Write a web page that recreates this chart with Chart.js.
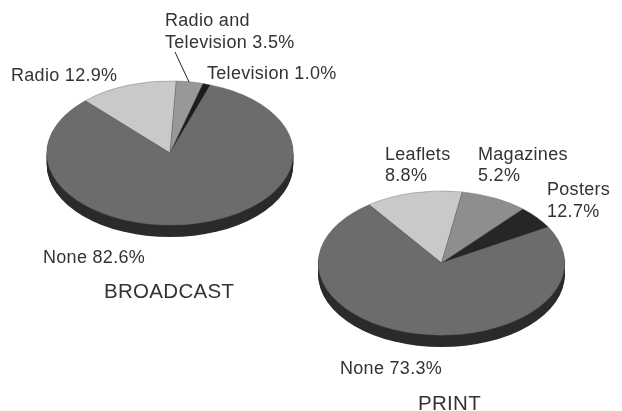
<!DOCTYPE html>
<html>
<head>
<meta charset="utf-8">
<script src="https://cdn.jsdelivr.net/npm/chart.js@4"></script>
<style>
    html, body { margin: 0; padding: 0; background: #fff; }
    #wrap { position: relative; width: 622px; height: 411px; overflow: hidden; }
    canvas { position: absolute; left: 0; top: 0; }
</style>
</head>
<body>
<div id="wrap">
    <canvas id="broadcast" width="622" height="411"></canvas>
    <canvas id="print" width="622" height="411"></canvas>
</div>
<script>
// slice values as drawn in the picture
const broadcastCategories = ['Radio', 'Radio and Television', 'Television', 'None']
const broadcastValues = [12.9, 3.5, 1.0, 82.6]
const broadcastLabels = ['Radio 12.9%', 'Radio and', 'Television 3.5%', 'Television 1.0%', 'None 82.6%']

// the printed percentages do not follow the slice sizes, slices are read off the picture
const printCategories = ['Leaflets', 'Magazines', 'Posters', 'None']
const printValues = [12.7, 8.8, 5.2, 73.3]
const printLabels = ['Leaflets', '8.8%', 'Magazines', '5.2%', 'Posters', '12.7%', 'None 73.3%']

const broadcastColors = ['#c9c9c9', '#989898', '#1c1c1c', '#6c6c6c']
const printColors = ['#c9c9c9', '#8e8e8e', '#262626', '#6c6c6c']

const font = '"Liberation Sans", Arial, sans-serif'
const tilt = 0.585
const depth = 12

/*Squash the round pie into an ellipse and put the dark rim under it*/
const tiltPlugin = {
    id: 'tilt',
    beforeDatasetsDraw(chart) {
        const arc = chart.getDatasetMeta(0).data[0]
        const ctx = chart.ctx
        const r = arc.outerRadius
        ctx.fillStyle = '#2b2b2b'
        for (let d = depth; d > 0; d--) {
            ctx.beginPath()
            ctx.ellipse(arc.x, arc.y + d, r, r * tilt, 0, 0, Math.PI * 2)
            ctx.fill()
        }
        ctx.save()
        ctx.translate(arc.x, arc.y)
        ctx.scale(1, tilt)
        ctx.translate(-arc.x, -arc.y)
    },
    afterDatasetsDraw(chart) {
        chart.ctx.restore()
    }
}

/*Labels and titles*/
const textPlugin = {
    id: 'texts',
    afterDraw(chart, args, opts) {
        const ctx = chart.ctx
        ctx.save()
        ctx.fillStyle = '#333'
        ctx.textBaseline = 'alphabetic'
        ctx.letterSpacing = '0.3px'
        ctx.font = '18px ' + font
        opts.labels.forEach(function(label, i){
            ctx.fillText(label, opts.places[i][0], opts.places[i][1])
        })
        ctx.font = '20.5px ' + font
        ctx.fillText(opts.title, opts.titlePlace[0], opts.titlePlace[1])
        if (opts.leader) {
            ctx.strokeStyle = '#222'
            ctx.lineWidth = 1
            ctx.beginPath()
            ctx.moveTo(opts.leader[0], opts.leader[1])
            ctx.lineTo(opts.leader[2], opts.leader[3])
            ctx.stroke()
        }
        ctx.restore()
    }
}

function makePie(id, categories, values, colors, rotation, padding, texts) {
    return new Chart(document.getElementById(id), {
        type: 'pie',
        data: {
            labels: categories,
            datasets: [{
                data: values,
                backgroundColor: colors,
                borderWidth: 0.5,
                borderColor: '#666',
                clip: false
            }]
        },
        options: {
            responsive: false,
            animation: false,
            rotation: rotation,
            layout: { padding: padding },
            plugins: {
                legend: { display: false },
                tooltip: { enabled: false },
                texts: texts
            }
        },
        plugins: [tiltPlugin, textPlugin]
    })
}

makePie('broadcast', broadcastCategories, broadcastValues, broadcastColors, -43.5,
    { left: 46.5, right: 328.5, top: 29.5, bottom: 134.5 },
    {
        labels: broadcastLabels,
        places: [[11, 81], [165, 26], [165, 48], [207, 79], [43, 263]],
        title: 'BROADCAST',
        titlePlace: [104, 298],
        leader: [175, 52, 189, 82]
    })

makePie('print', printCategories, printValues, printColors, -36,
    { left: 318, right: 57, top: 139.5, bottom: 24.5 },
    {
        labels: printLabels,
        places: [[385, 160], [385, 181], [478, 160], [478, 181], [547, 195], [547, 217], [340, 374]],
        title: 'PRINT',
        titlePlace: [418, 410]
    })
</script>
</body>
</html>
